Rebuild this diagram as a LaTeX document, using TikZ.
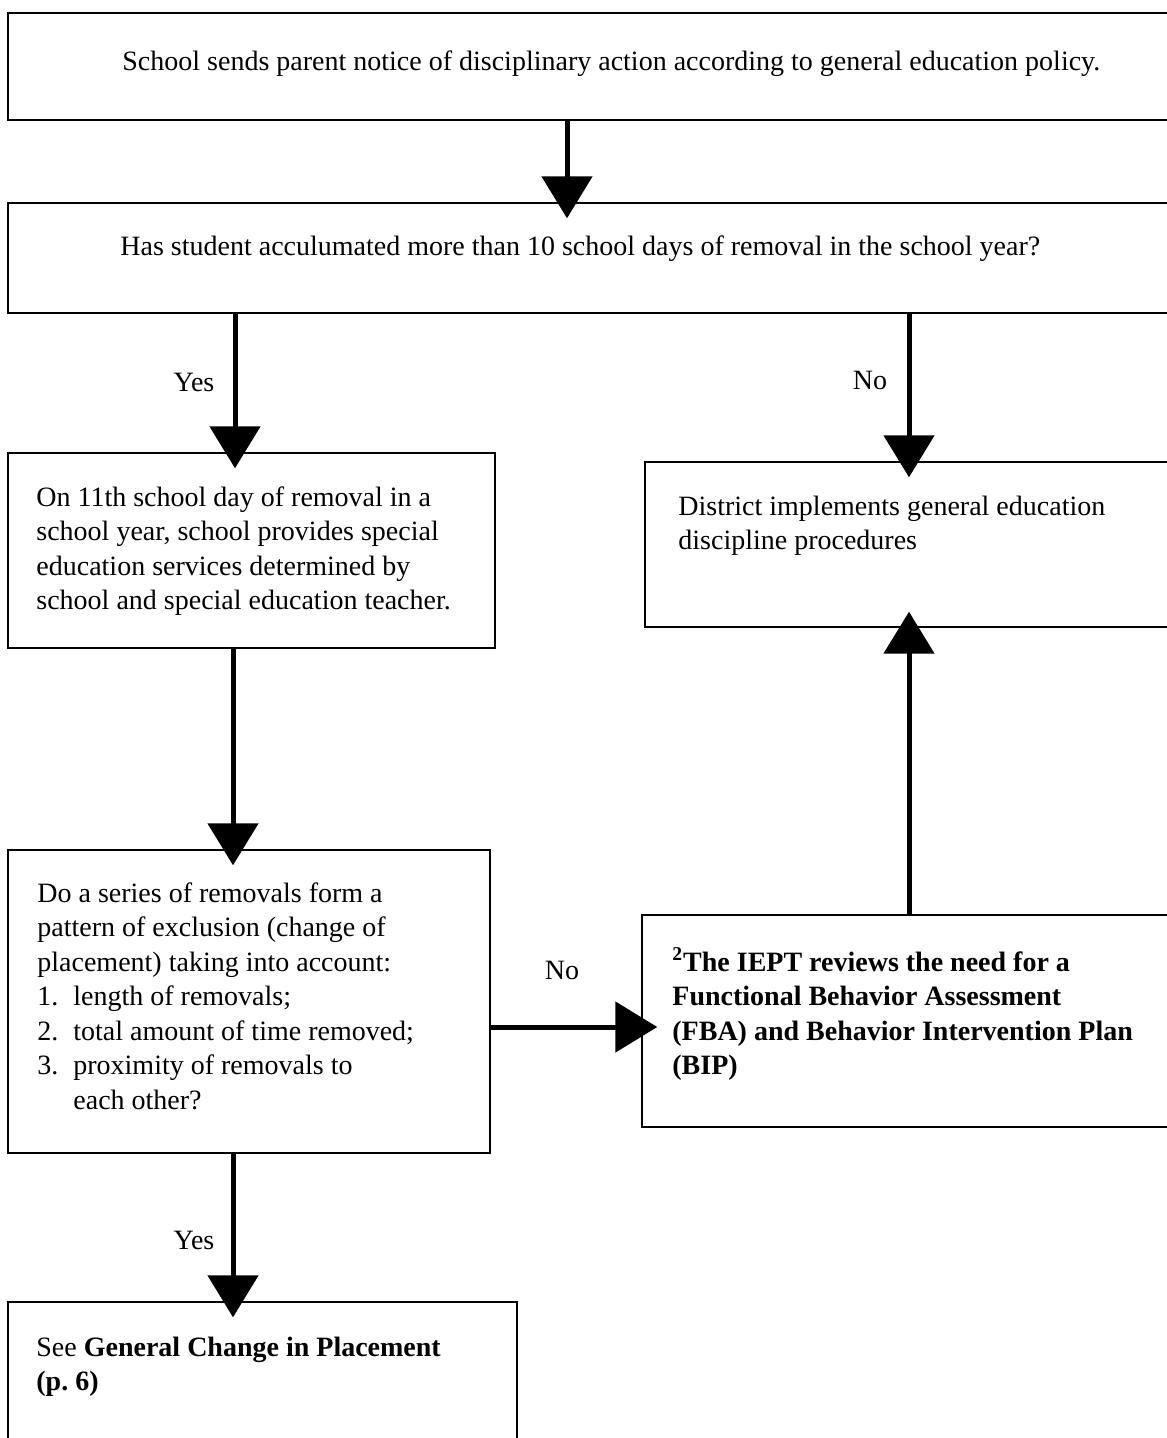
\documentclass[tikz,border=0pt]{standalone}
\usepackage{fontspec}
\setmainfont{Liberation Serif}
\usetikzlibrary{arrows.meta,fit}
\begin{document}
\begin{tikzpicture}[x=0.5pt,y=-0.5pt,
  box/.style={draw, line width=0.7pt, inner sep=0pt},
  txt/.style={inner sep=0pt, anchor=base west, font=\fontsize{14}{17.25}\selectfont},
  mtxt/.style={txt, text width=260pt, align=flush left},
  lbl/.style={inner sep=0pt, font=\fontsize{14}{17.25}\selectfont},
  arr/.style={line width=2.5pt, -{Triangle[length=21pt,width=25pt]}, shorten >=-8pt}]
\useasboundingbox (0,0) rectangle (1166,1438);
% boxes
\node[box, fit={(8,13) (1220,120)}] (b1) {};
\node[box, fit={(8,203) (1220,313)}] (b2) {};
\node[box, fit={(8,453) (495,648)}] (b3) {};
\node[box, fit={(645,462) (1220,627)}] (b4) {};
\node[box, fit={(8,850) (490,1153)}] (b5) {};
\node[box, fit={(642,915) (1220,1127)}] (b6) {};
\node[box, fit={(8,1302) (517,1460)}] (b7) {};
% texts
\node[txt] (t1) at (122,71) {School sends parent notice of disciplinary action according to general education policy.};
\node[txt] (t2) at (120,256) {Has student acculumated more than 10 school days of removal in the school year?};
\node[mtxt] (t3) at (36,506) {On 11th school day of removal in a\\school year, school provides special\\education services determined by\\school and special education teacher.};
\node[mtxt] (t4) at (678,515) {District implements general education\\discipline procedures};
\node[mtxt] (t5) at (37,902) {Do a series of removals form a\\pattern of exclusion (change of\\placement) taking into account:\\\makebox[18pt][l]{1.}length of removals;\\\makebox[18pt][l]{2.}total amount of time removed;\\\makebox[18pt][l]{3.}proximity of removals to\\\hspace*{18pt}each other?};
\node[mtxt, font=\fontsize{14}{17.25}\selectfont\bfseries] (t6) at (672,971) {\textsuperscript{2}The IEPT reviews the need for a\\Functional Behavior Assessment\\(FBA) and Behavior Intervention Plan\\(BIP)};
\node[mtxt] (t7) at (36,1356) {See \textbf{General Change in Placement}\\\textbf{(p.\ 6)}};
% connector positions
\coordinate (c1) at (567,0);
\coordinate (c2) at (235,0);
\coordinate (c3) at (909,0);
\coordinate (c4) at (233,0);
\coordinate (c5) at (0,1027);
% connectors
\draw[arr] (b1.south -| c1) -- (b2.north -| c1);
\draw[arr] (b2.south -| c2) -- (b3.north -| c2);
\draw[arr] (b2.south -| c3) -- (b4.north -| c3);
\draw[arr] (b3.south -| c4) -- (b5.north -| c4);
\draw[arr] (b5.east |- c5) -- (b6.west |- c5);
\draw[arr] (b6.north -| c3) -- (b4.south -| c3);
\draw[arr] (b5.south -| c4) -- (b7.north -| c4);
% labels
\node[lbl] (l1) at (194,382) {Yes};
\node[lbl] (l2) at (870,380) {No};
\node[lbl] (l3) at (562,970) {No};
\node[lbl] (l4) at (194,1240) {Yes};
\end{tikzpicture}
\end{document}
